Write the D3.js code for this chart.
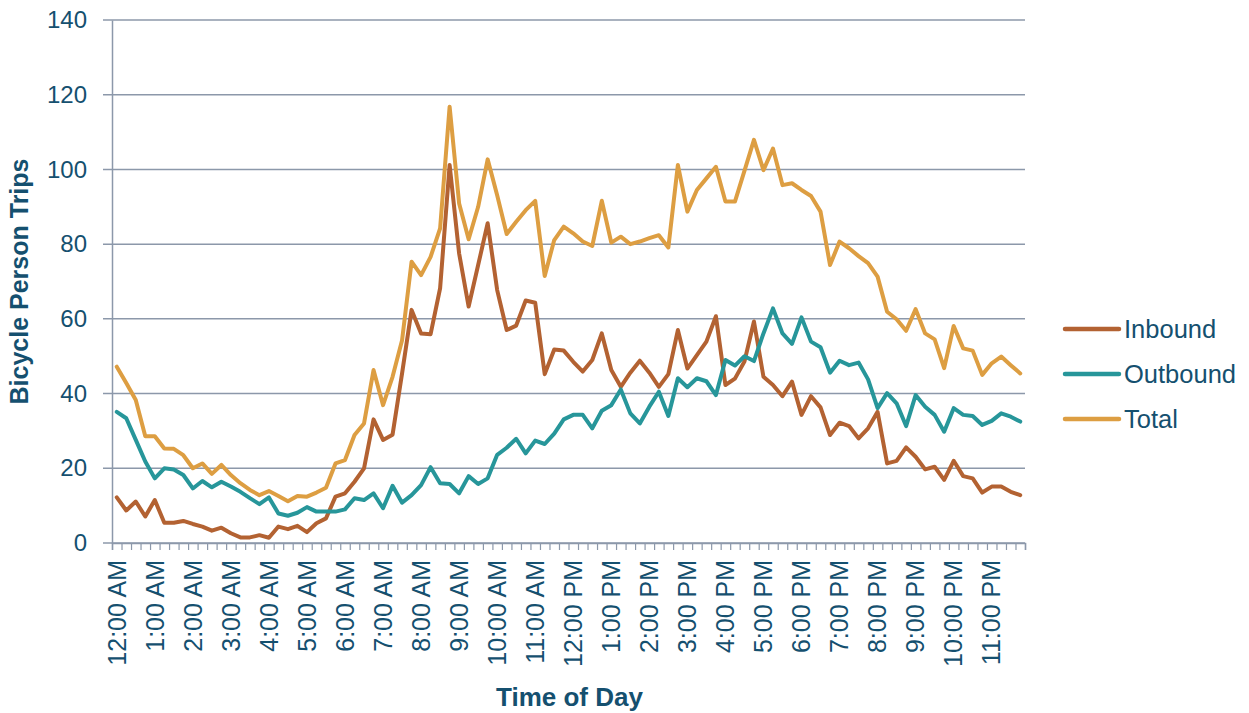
<!DOCTYPE html>
<html>
<head>
<meta charset="utf-8">
<script src="https://cdn.jsdelivr.net/npm/d3@7"></script>
<style>
  body { margin: 0; background: #fff; }
  svg { font-family: Arial, "Liberation Sans", sans-serif; }
</style>
</head>
<body>
<div class="chart"></div>
<script>
// hourly tick labels (one every 4 quarter-hour slots)
const hourLabels = ["12:00 AM", "1:00 AM", "2:00 AM", "3:00 AM", "4:00 AM", "5:00 AM",
    "6:00 AM", "7:00 AM", "8:00 AM", "9:00 AM", "10:00 AM", "11:00 AM",
    "12:00 PM", "1:00 PM", "2:00 PM", "3:00 PM", "4:00 PM", "5:00 PM",
    "6:00 PM", "7:00 PM", "8:00 PM", "9:00 PM", "10:00 PM", "11:00 PM"]
const quarters = [":00", ":15", ":30", ":45"]

const inbound = [12.2, 8.7, 11.1, 7.1, 11.5, 5.4, 5.4, 5.9, 5.1, 4.4, 3.3, 4.1,
    2.6, 1.5, 1.5, 2.1, 1.4, 4.4, 3.7, 4.6, 2.9, 5.3, 6.6, 12.4,
    13.3, 16.4, 20.0, 33.1, 27.6, 29.0, 45.4, 62.4, 56.1, 55.9, 68.2, 101.2,
    77.5, 63.3, 74.4, 85.6, 67.7, 57.0, 58.2, 64.9, 64.3, 45.2, 51.8, 51.5,
    48.5, 45.9, 49.0, 56.1, 46.3, 41.8, 45.6, 48.8, 45.6, 41.8, 45.2, 57.0,
    46.7, 50.3, 53.9, 60.7, 42.3, 44.0, 48.6, 59.3, 44.5, 42.3, 39.3, 43.2,
    34.3, 39.3, 36.3, 28.9, 32.2, 31.3, 28.0, 30.7, 35.1, 21.3, 22.0, 25.6,
    23.1, 19.7, 20.4, 16.9, 22.0, 17.9, 17.3, 13.5, 15.1, 15.1, 13.7, 12.8]

const outbound = [35.1, 33.4, 27.6, 21.8, 17.3, 20.0, 19.7, 18.2, 14.6, 16.6, 14.9, 16.4,
    15.1, 13.7, 12.0, 10.4, 12.2, 7.9, 7.3, 8.1, 9.6, 8.4, 8.4, 8.4,
    9.0, 12.0, 11.5, 13.3, 9.3, 15.3, 10.8, 12.8, 15.5, 20.3, 16.0, 15.8,
    13.3, 17.9, 15.8, 17.3, 23.6, 25.5, 27.9, 24.0, 27.4, 26.5, 29.3, 33.1,
    34.3, 34.3, 30.7, 35.4, 36.9, 41.1, 34.7, 32.0, 36.5, 40.5, 34.0, 44.1,
    41.7, 44.1, 43.3, 39.6, 49.0, 47.5, 50.0, 48.7, 56.1, 62.8, 56.1, 53.3,
    60.4, 53.9, 52.4, 45.6, 48.8, 47.6, 48.3, 43.8, 36.1, 40.1, 37.4, 31.3,
    39.6, 36.5, 34.3, 29.8, 36.1, 34.3, 34.0, 31.6, 32.7, 34.7, 33.8, 32.5]

const total = [47.2, 42.8, 38.3, 28.6, 28.6, 25.3, 25.2, 23.5, 20.0, 21.3, 18.5, 20.9,
    18.2, 16.0, 14.2, 12.8, 13.9, 12.6, 11.2, 12.6, 12.4, 13.5, 14.8, 21.3,
    22.2, 28.9, 32.0, 46.3, 36.9, 44.5, 54.3, 75.3, 71.7, 76.6, 84.2, 116.8,
    90.9, 81.3, 90.0, 102.7, 93.1, 82.7, 86.0, 89.1, 91.6, 71.5, 81.1, 84.7,
    82.9, 80.7, 79.5, 91.6, 80.4, 82.0, 80.0, 80.7, 81.6, 82.4, 79.1, 101.2,
    88.7, 94.5, 97.6, 100.7, 91.4, 91.4, 99.6, 107.9, 99.8, 105.6, 95.8, 96.3,
    94.5, 92.9, 88.7, 74.4, 80.7, 78.9, 76.8, 74.9, 71.3, 61.9, 59.9, 56.8,
    62.6, 56.1, 54.5, 46.8, 58.1, 52.1, 51.5, 45.0, 48.1, 49.9, 47.6, 45.4]

const seriesNames = ["Inbound", "Outbound", "Total"]
const seriesColors = ["#b36232", "#27969a", "#dd9e42"]
const yTicks = [0, 20, 40, 60, 80, 100, 120, 140]

const categories = []
hourLabels.forEach(h => {
    quarters.forEach(q => categories.push(h.replace(":00", q)))
})

const textColor = "#15506f"
const gridColor = "#8c98aa"

const W = 1249, H = 713
const margin = {top: 20, right: 224, bottom: 170, left: 112}
const width = W - margin.left - margin.right,
    height = H - margin.top - margin.bottom

const svg = d3.select(".chart")
    .append("svg")
        .attr("width", W)
        .attr("height", H)
    .append("g")
        .attr("transform", "translate(" + margin.left + "," + margin.top + ")")

let x = d3.scaleBand()
    .domain(categories)
    .range([0, width])
    .padding(0)

let xEdge = d3.scaleLinear()
    .domain([0, categories.length])
    .range([0, width])

let y = d3.scaleLinear()
    .domain([0, 140])
    .range([height, 0])

// horizontal gridlines, poking out left of the axis as ticks
svg.selectAll(".grid")
    .data(yTicks)
    .enter()
    .append("line")
        .attr("class", "grid")
        .attr("x1", -9)
        .attr("x2", width)
        .attr("y1", d => y(d))
        .attr("y2", d => y(d))
        .attr("stroke", gridColor)
        .attr("stroke-width", 1.5)

// y axis line and labels
svg.append("g")
    .call(d3.axisLeft(y).tickValues(yTicks).tickSize(0).tickPadding(25))
    .call(g => g.select(".domain").attr("stroke", gridColor).attr("stroke-width", 1.5))
    .selectAll("text")
        .attr("font-size", 24)
        .attr("font-family", "Arial, 'Liberation Sans', sans-serif")
        .attr("fill", textColor)

// x axis small ticks between slots
svg.append("g")
    .attr("transform", "translate(0," + height + ")")
    .call(d3.axisBottom(xEdge).tickValues(d3.range(categories.length + 1)).tickSize(7).tickFormat(""))
    .call(g => g.select(".domain").attr("stroke", gridColor).attr("stroke-width", 1.5))
    .selectAll("line")
        .attr("stroke", gridColor)
        .attr("stroke-width", 1.2)

// x labels every hour, rotated
svg.append("g")
    .attr("transform", "translate(0," + height + ")")
    .call(d3.axisBottom(x)
        .tickValues(categories.filter((d, i) => i % 4 === 0))
        .tickSize(0))
    .call(g => g.select(".domain").remove())
    .selectAll("text")
        .attr("font-size", 25)
        .attr("font-family", "Arial, 'Liberation Sans', sans-serif")
        .attr("fill", textColor)
        .attr("transform", "rotate(-90)")
        .attr("x", -17)
        .attr("y", 0)
        .attr("dy", "0.35em")
        .style("text-anchor", "end")

const allSeries = [inbound, outbound, total]

const line = d3.line()
    .x((d, i) => x(categories[i]) + x.bandwidth() / 2)
    .y(d => y(d))

svg.selectAll(".series")
    .data(allSeries)
    .enter()
    .append("path")
        .attr("class", "series")
        .attr("d", d => line(d))
        .attr("fill", "none")
        .attr("stroke", (d, i) => seriesColors[i])
        .attr("stroke-width", 4)
        .attr("stroke-linejoin", "round")
        .attr("stroke-linecap", "round")

// axis titles
svg.append("text")
    .attr("text-anchor", "middle")
    .attr("transform", "rotate(-90)")
    .attr("x", -height / 2)
    .attr("y", -84)
    .attr("font-size", 25)
    .attr("font-weight", "bold")
    .attr("fill", textColor)
    .text("Bicycle Person Trips")

svg.append("text")
    .attr("text-anchor", "middle")
    .attr("x", width / 2 + 1)
    .attr("y", height + 163)
    .attr("font-size", 26)
    .attr("font-weight", "bold")
    .attr("fill", textColor)
    .text("Time of Day")

// legend
const legend = svg.selectAll(".legend")
    .data(seriesNames)
    .enter()
    .append("g")
        .attr("class", "legend")
        .attr("transform", (d, i) => "translate(" + (width + 40) + "," + (309 + i * 45) + ")")

legend.append("line")
    .attr("x1", 0).attr("x2", 54)
    .attr("stroke", (d, i) => seriesColors[i])
    .attr("stroke-width", 4.5)
    .attr("stroke-linecap", "round")

legend.append("text")
    .attr("x", 59)
    .attr("dy", "0.35em")
    .attr("font-size", 25.5)
    .attr("fill", textColor)
    .text(d => d)
</script>
</body>
</html>
